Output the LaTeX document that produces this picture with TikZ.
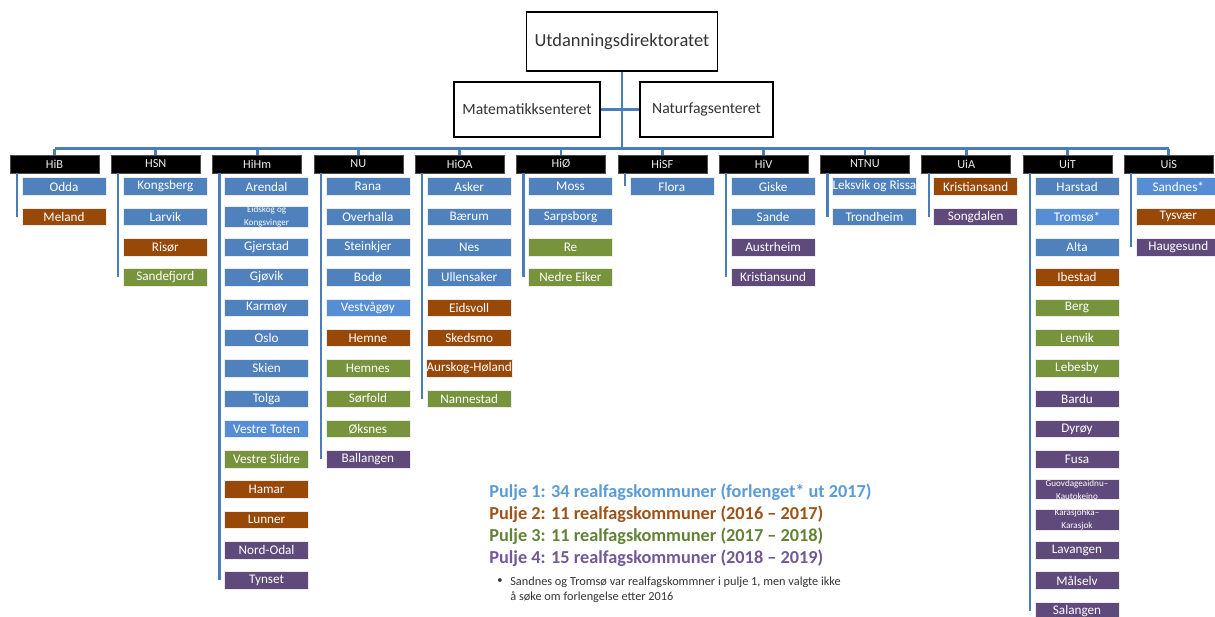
\documentclass[tikz,border=0pt]{standalone}
\usepackage{fontspec}
\setmainfont{Carlito}
\usetikzlibrary{positioning}

\definecolor{p1}{HTML}{4F81BD}
\definecolor{p1l}{HTML}{558ED5}
\definecolor{p2}{HTML}{984807}
\definecolor{p3}{HTML}{77933C}
\definecolor{p4}{HTML}{604A7B}
\definecolor{lnk}{HTML}{4A7EBB}
\definecolor{l1}{HTML}{5B9BD5}
\definecolor{l2}{HTML}{9C5318}
\definecolor{l3}{HTML}{628236}
\definecolor{l4}{HTML}{725896}
\definecolor{dark}{HTML}{333333}

\newcommand{\twolines}[2]{\fontsize{5.2}{4.8}\selectfont #1\\\fontsize{5.2}{4.8}\selectfont #2}

\tikzset{
  topbox/.style={draw=black, line width=1.1pt, fill=white, text=dark, minimum height=1.1cm, inner sep=2pt},
  hdr/.style={fill=black, draw=gray!60!black, line width=0.3pt, text=white!85!gray, minimum width=1.78cm, minimum height=0.36cm, inner sep=0pt, font=\fontsize{7}{7}\selectfont},
  kid/.style={draw=white!85!gray, line width=0.3pt, text=white, minimum width=1.68cm, minimum height=0.35cm, inner sep=0pt, align=center, font=\fontsize{7.5}{7.5}\selectfont},
  bus/.style={draw=lnk, line width=1.6pt},
  stem/.style={draw=lnk, line width=1.3pt},
  pulje/.style={anchor=west, inner sep=0pt, font=\fontsize{10.4}{11}\bfseries}
}

\begin{document}
\begin{tikzpicture}[x=0.02cm, y=-0.02cm]
  \useasboundingbox (0,0) rectangle (1215,617);

  % top of the tree
  \node[topbox, minimum width=3.82cm, minimum height=1.18cm, font=\fontsize{10.5}{12}\selectfont] (udir) at (622,41.5) {Utdanningsdirektoratet};
  \node[topbox, minimum width=2.92cm, font=\fontsize{8.9}{10}\selectfont] (mat) at (527,109.5) {Matematikksenteret};
  \node[topbox, minimum width=2.66cm, font=\fontsize{8.9}{10}\selectfont] (nat) at (706.5,109.5) {Naturfagsenteret};

  % institutions and their municipalities
  \foreach \uni/\n/\kids [count=\i] in {
    HiB/2/{Odda/p1, Meland/p2},
    HSN/4/{Kongsberg/p1, Larvik/p1, Risør/p2, Sandefjord/p3},
    HiHm/14/{Arendal/p1, \twolines{Eidskog og}{Kongsvinger}/p1, Gjerstad/p1, Gjøvik/p1, Karmøy/p1, Oslo/p1, Skien/p1, Tolga/p1, Vestre Toten/p1l, Vestre Slidre/p3, Hamar/p2, Lunner/p2, Nord-Odal/p4, Tynset/p4},
    NU/10/{Rana/p1, Overhalla/p1, Steinkjer/p1, Bodø/p1, Vestvågøy/p1l, Hemne/p2, Hemnes/p3, Sørfold/p3, Øksnes/p3, Ballangen/p4},
    HiOA/8/{Asker/p1, Bærum/p1, Nes/p1, Ullensaker/p1, Eidsvoll/p2, Skedsmo/p2, Aurskog-Høland/p2, Nannestad/p3},
    HiØ/4/{Moss/p1, Sarpsborg/p1, Re/p3, Nedre Eiker/p3},
    HiSF/1/{Flora/p1},
    HiV/4/{Giske/p1, Sande/p1, Austrheim/p4, Kristiansund/p4},
    NTNU/2/{Leksvik og Rissa/p1, Trondheim/p1},
    UiA/2/{Kristiansand/p2, Songdalen/p4},
    UiT/15/{Harstad/p1, Tromsø*/p1l, Alta/p1, Ibestad/p2, Berg/p3, Lenvik/p3, Lebesby/p3, Bardu/p4, Dyrøy/p4, Fusa/p4, \twolines{Guovdageaidnu–}{Kautokeino}/p4, \twolines{Kárášjohka–}{Karasjok}/p4, Lavangen/p4, Målselv/p4, Salangen/p4},
    UiS/3/{Sandnes*/p1l, Tysvær/p2, Haugesund/p4}}{
    \node[hdr] (h\i) at ({54.5+101.3*(\i-1)},164) {\uni};
    \foreach \kom/\col [count=\j] in \kids
      \node[kid, fill=\col] (c\i-\j) at ({64+101.3*(\i-1)}, {186.5+30.3*(\j-1)}) {\kom};
    \coordinate (s\i) at ([xshift=-0.75cm]h\i.south);
    \draw[stem] (s\i) -- (s\i |- c\i-\n.center);
  }

  % connectors
  \coordinate (bus) at ([yshift=0.12cm]h1.north);
  \draw[bus] (h1.north |- bus) -- (h12.north |- bus);
  \foreach \i in {1,...,12}
    \draw[bus] (h\i.north) -- (h\i.north |- bus);
  \draw[bus] (udir.south) -- (udir.south |- bus);
  \draw[bus] (mat.east) -- (mat.east -| udir.south);
  \draw[bus] (nat.west) -- (nat.west -| udir.south);

  % legend
  \node[pulje, text=l1] (pul1) at (489,492) {Pulje 1: 34 realfagskommuner (forlenget* ut 2017)};
  \node[pulje, text=l2] (pul2) at (489,514) {Pulje 2: 11 realfagskommuner (2016 – 2017)};
  \node[pulje, text=l3] (pul3) at (489,536) {Pulje 3: 11 realfagskommuner (2017 – 2018)};
  \node[pulje, text=l4] (pul4) at (489,558) {Pulje 4: 15 realfagskommuner (2018 – 2019)};
  \node[anchor=north west, align=left, inner sep=0pt, text=dark, font=\fontsize{7}{8.5}\selectfont] (note) at (510,576.5) {Sandnes og Tromsø var realfagskommner i pulje 1, men valgte ikke\\å søke om forlengelse etter 2016};
  \node[inner sep=0pt, text=dark, font=\fontsize{6}{6}\selectfont] (bul) at (500,581) {•};
\end{tikzpicture}
\end{document}
